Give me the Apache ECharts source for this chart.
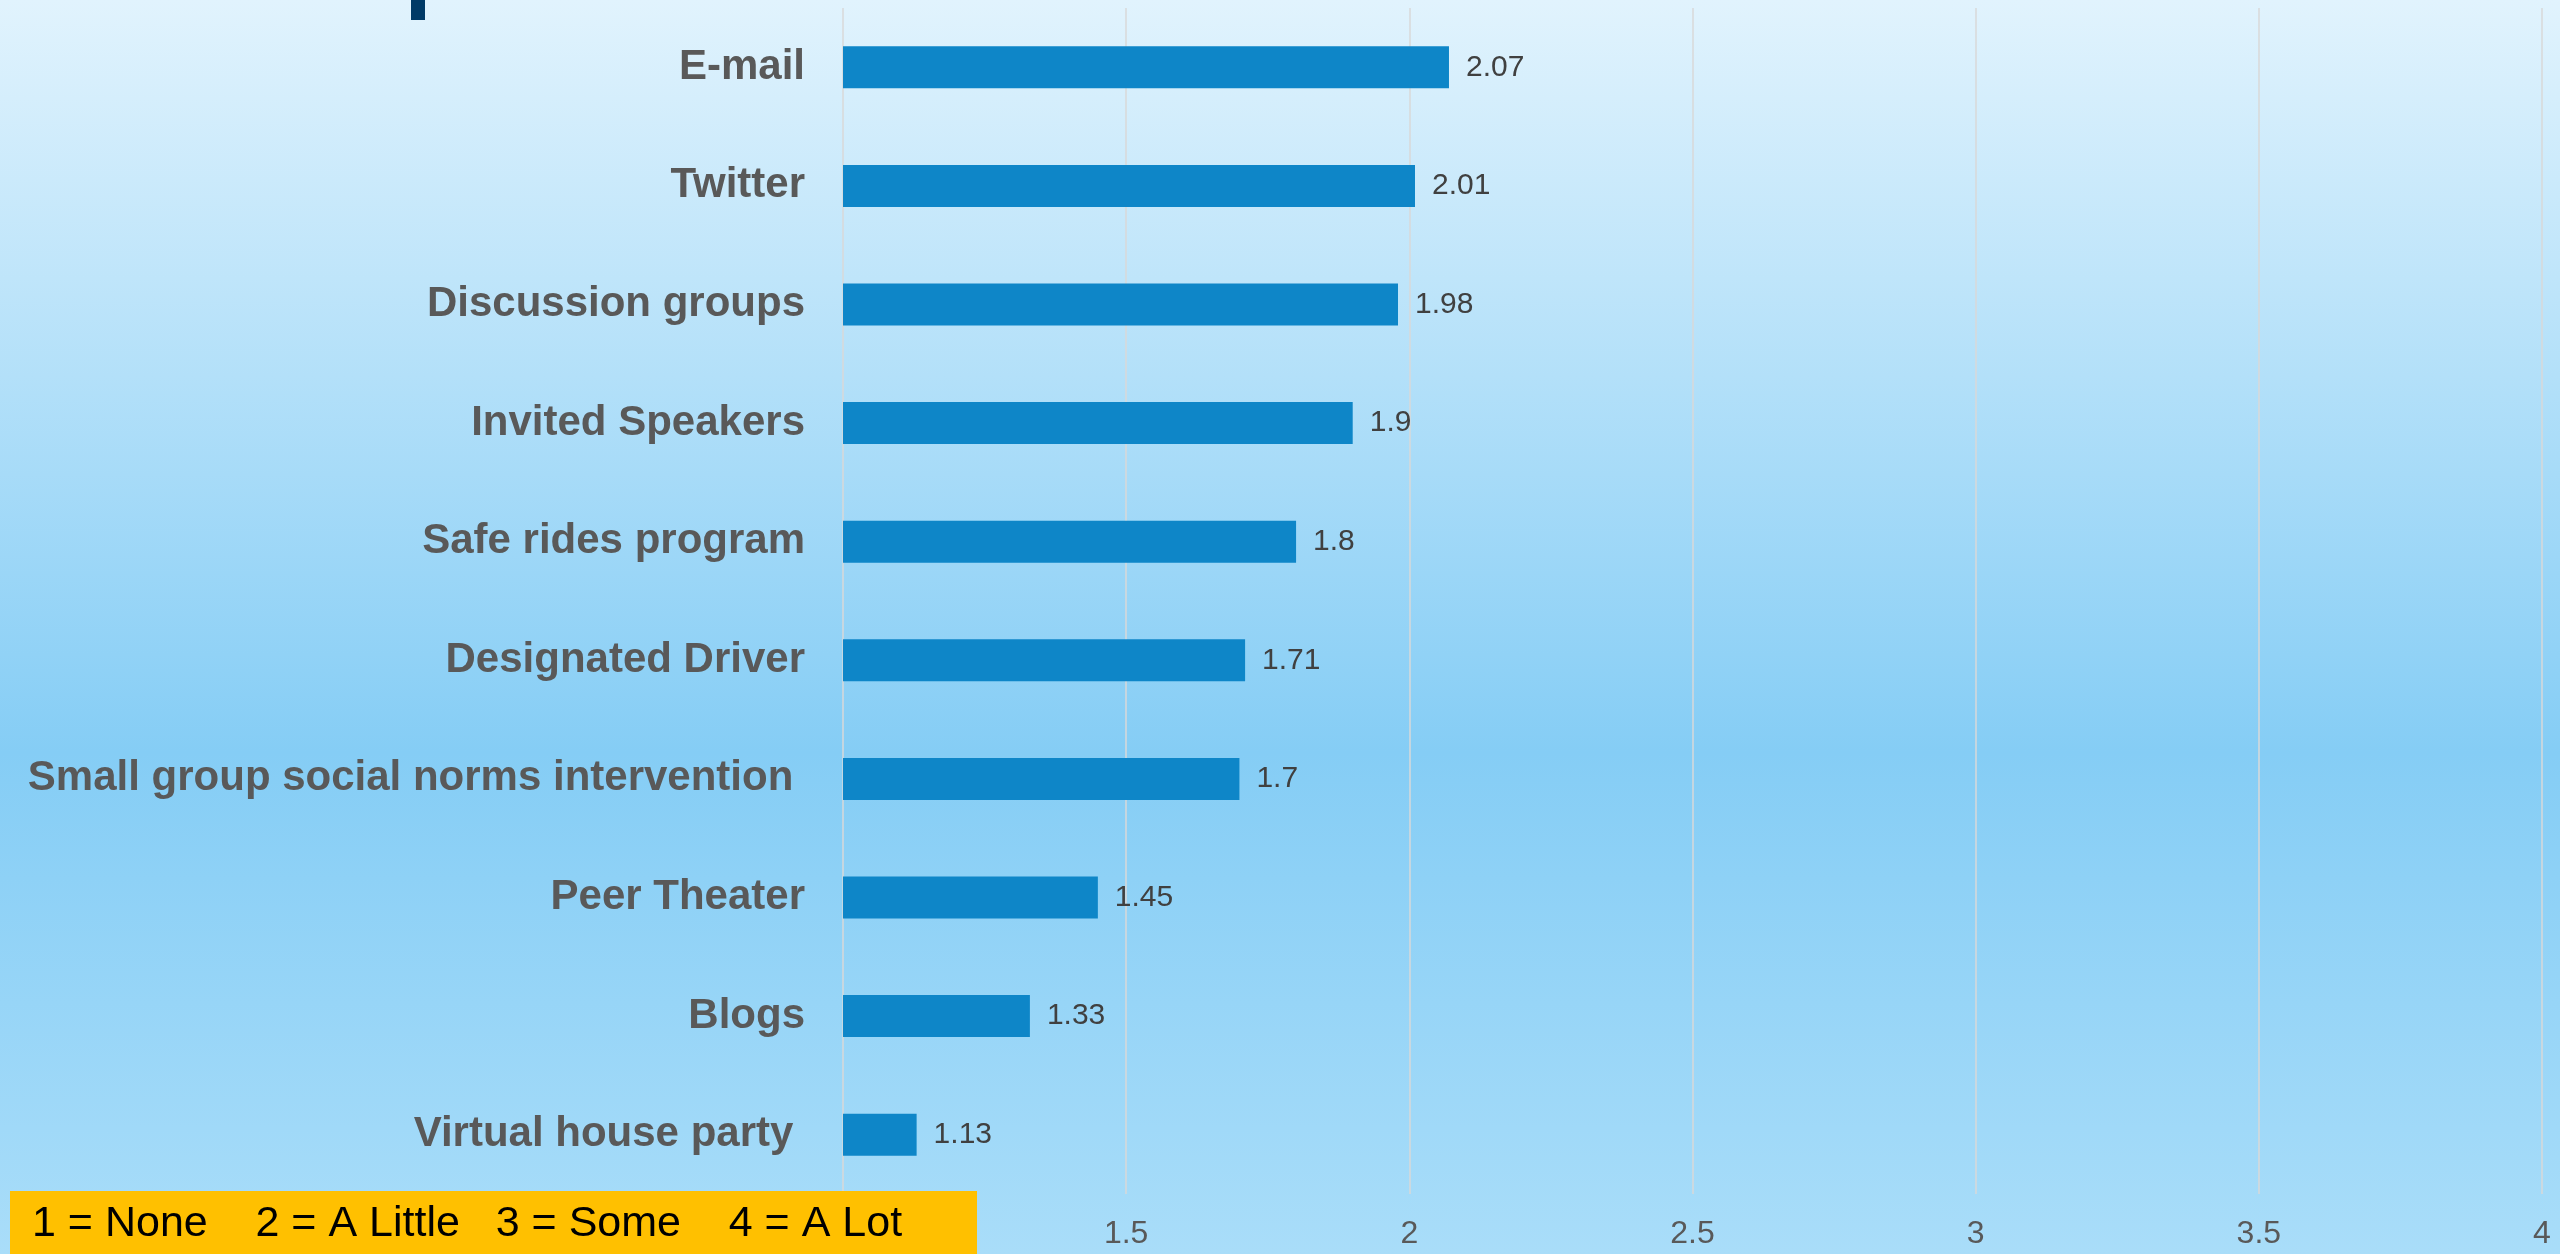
<!DOCTYPE html>
<html>
<head>
<meta charset="utf-8">
<script src="https://cdn.jsdelivr.net/npm/echarts@6/dist/echarts.min.js"></script>
<style>
  html, body { margin: 0; padding: 0; }
  #chart { width: 2560px; height: 1254px; }
</style>
</head>
<body>
<div id="chart"></div>
<script>
const categories = [
  "E-mail",
  "Twitter",
  "Discussion groups",
  "Invited Speakers",
  "Safe rides program",
  "Designated Driver",
  "Small group social norms intervention ",
  "Peer Theater",
  "Blogs",
  "Virtual house party "
];
const values = [2.07, 2.01, 1.98, 1.9, 1.8, 1.71, 1.7, 1.45, 1.33, 1.13];
const scaleKey = "1 = None    2 = A Little   3 = Some    4 = A Lot";

const FONT = "'Liberation Sans', Arial, sans-serif";
const myChart = echarts.init(document.getElementById("chart"));

myChart.setOption({
  animation: false,
  backgroundColor: {
    type: "linear",
    x: 0, y: 0, x2: 0, y2: 1,
    colorStops: [
      { offset: 0, color: "#e1f3fd" },
      { offset: 0.6, color: "#85cdf5" },
      { offset: 1, color: "#a9ddf9" }
    ]
  },
  textStyle: { fontFamily: FONT },
  grid: {
    left: 843,
    right: 18,
    top: 8,
    bottom: 60
  },
  xAxis: {
    type: "value",
    min: 1,
    max: 4,
    interval: 0.5,
    axisLine: { show: false },
    axisTick: { show: false },
    axisLabel: {
      color: "#595959",
      fontFamily: FONT,
      fontSize: 32,
      margin: 24
    },
    splitLine: {
      show: true,
      lineStyle: { color: "#d9d9d9", width: 1.5 }
    }
  },
  yAxis: {
    type: "category",
    inverse: true,
    data: categories,
    axisLine: { show: false },
    axisTick: { show: false },
    axisLabel: {
      color: "#595959",
      fontFamily: FONT,
      fontSize: 42,
      fontWeight: "bold",
      margin: 38,
      padding: [6, 0, 0, 0]
    }
  },
  series: [
    {
      type: "bar",
      data: values,
      barWidth: 42,
      itemStyle: { color: "#0e86c8" },
      label: {
        show: true,
        position: "right",
        distance: 17,
        color: "#404040",
        fontFamily: FONT,
        fontSize: 30,
        padding: [3, 0, 0, 0]
      }
    }
  ],
  graphic: [
    {
      type: "rect",
      left: 411,
      top: 0,
      z: 100,
      shape: { width: 14, height: 20 },
      style: { fill: "#003a66" }
    },
    {
      type: "group",
      left: 10,
      top: 1191,
      z: 100,
      children: [
        {
          type: "rect",
          z: 100,
          shape: { width: 967, height: 63 },
          style: { fill: "#ffc000" }
        },
        {
          type: "text",
          left: 22,
          top: 12,
          z: 101,
          style: {
            text: scaleKey,
            fill: "#000000",
            fontSize: 43,
            fontFamily: FONT
          }
        }
      ]
    }
  ]
});
</script>
</body>
</html>
